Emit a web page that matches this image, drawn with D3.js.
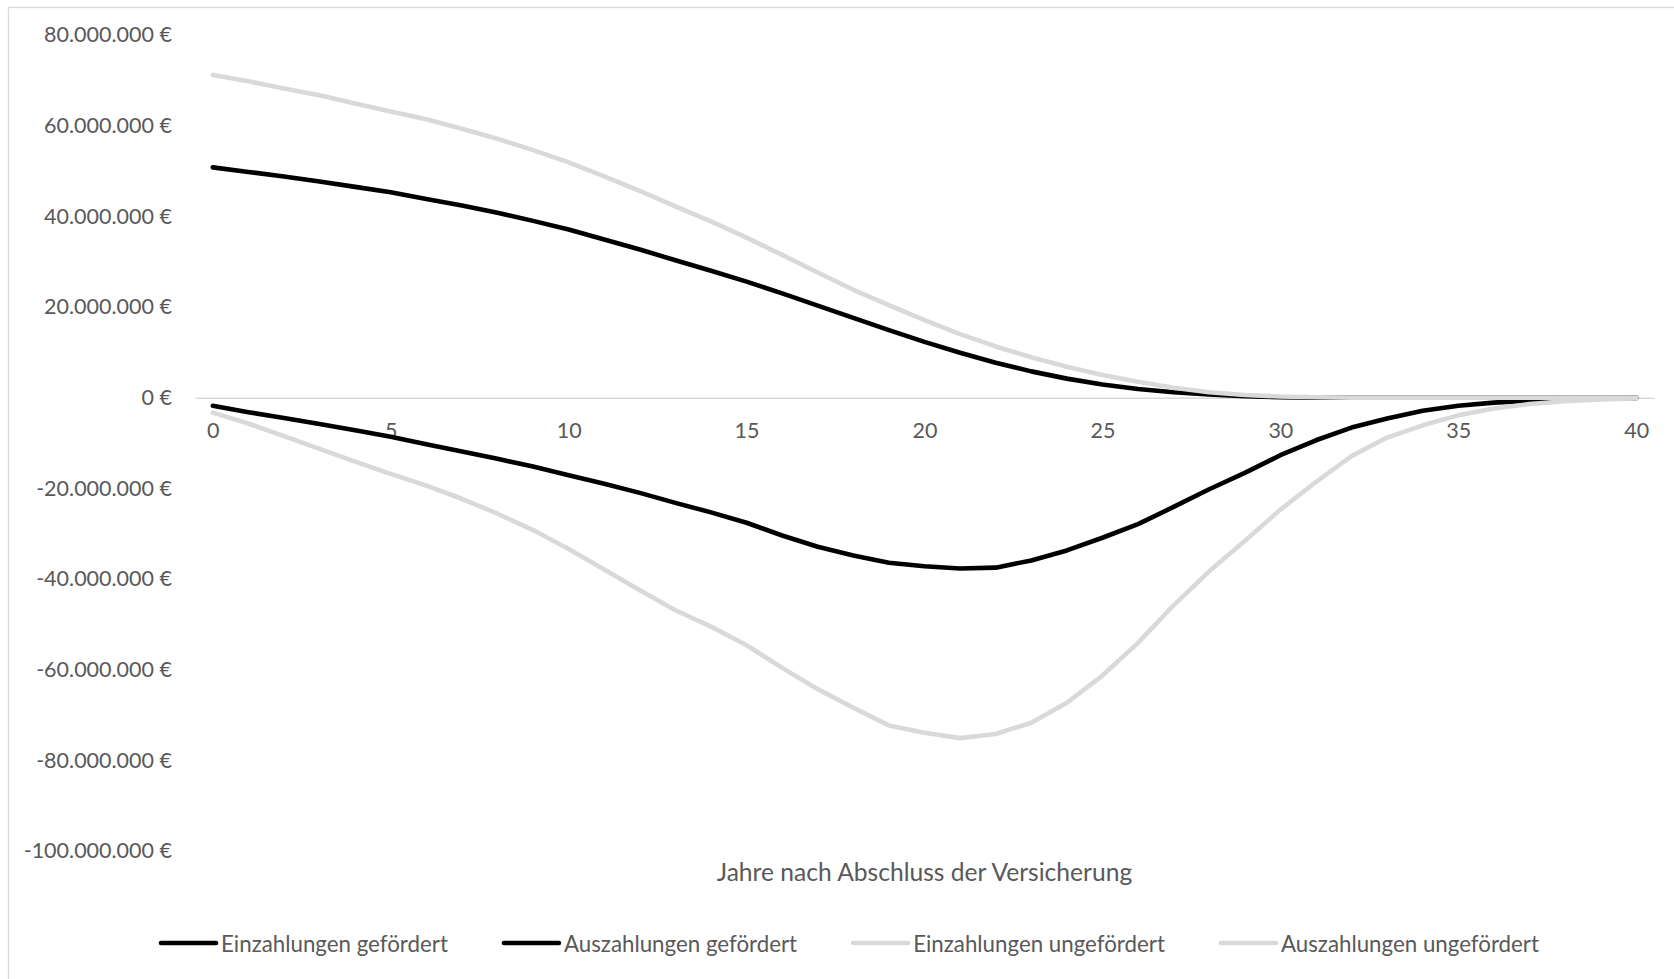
<!DOCTYPE html>
<html>
<head>
<meta charset="utf-8">
<script src="https://cdn.jsdelivr.net/npm/d3@7"></script>
<style>
  html, body { margin: 0; padding: 0; background: #ffffff; }
  svg { display: block; font-family: Lato, "Open Sans", sans-serif; }
</style>
</head>
<body>
<svg id="chart" width="1674" height="979"></svg>
<script>
// ---- Data (values in million €) ----
const years = [0,1,2,3,4,5,6,7,8,9,10,11,12,13,14,15,16,17,18,19,20,21,22,23,24,25,26,27,28,29,30,31,32,33,34,35,36,37,38,39,40];

const einzahlungenGefoerdert = [50.8,49.8,48.8,47.7,46.5,45.3,43.8,42.4,40.8,39.0,37.1,34.9,32.7,30.3,28.0,25.6,23.0,20.3,17.6,14.9,12.3,9.9,7.7,5.8,4.2,2.9,1.9,1.2,0.7,0.3,0.1,0,0,0,0,0,0,0,0,0,0];

const auszahlungenGefoerdert = [-1.8,-3.2,-4.5,-5.8,-7.2,-8.6,-10.3,-11.9,-13.5,-15.2,-17.1,-19.0,-21.0,-23.2,-25.3,-27.6,-30.4,-32.9,-34.8,-36.4,-37.2,-37.7,-37.5,-35.9,-33.7,-30.9,-27.9,-24.1,-20.2,-16.6,-12.7,-9.4,-6.6,-4.6,-2.9,-1.8,-1.1,-0.66,-0.37,-0.2,-0.1];

const einzahlungenUngefoerdert = [71.2,69.8,68.2,66.7,64.9,63.1,61.4,59.3,57.1,54.6,51.9,48.8,45.6,42.2,38.9,35.3,31.5,27.6,23.8,20.4,17.1,14.0,11.3,8.9,6.8,5.0,3.5,2.2,1.2,0.6,0.25,0.1,0,0,0,0,0,0,0,0,0];

const auszahlungenUngefoerdert = [-3.3,-5.7,-8.5,-11.3,-14.1,-16.8,-19.4,-22.3,-25.6,-29.2,-33.4,-37.9,-42.5,-46.9,-50.5,-54.6,-59.6,-64.3,-68.4,-72.3,-73.9,-75.1,-74.2,-71.7,-67.3,-61.3,-54.1,-45.8,-38.3,-31.6,-24.7,-18.6,-12.9,-8.8,-6.1,-3.9,-2.4,-1.4,-0.8,-0.4,-0.2];

const seriesNames = ["Einzahlungen gefördert","Auszahlungen gefördert","Einzahlungen ungefördert","Auszahlungen ungefördert"];
const seriesColors = ["#000000","#000000","#d9d9d9","#d9d9d9"];
const yTicks = [-100,-80,-60,-40,-20,0,20,40,60,80];
const xTicks = [0,5,10,15,20,25,30,35,40];
const xTitle = "Jahre nach Abschluss der Versicherung";

// ---- Layout ----
const svg = d3.select("#chart");
const W = 1674, H = 979;
const textColor = "#595959";
const gridColor = "#d9d9d9";

svg.append("rect").attr("x",0).attr("y",0).attr("width",W).attr("height",H).attr("fill","#fff");
// chart frame (extends past the right/bottom edge as in the reference)
svg.append("rect")
  .attr("x",8.5).attr("y",7.5).attr("width",W+20).attr("height",H+20)
  .attr("fill","none").attr("stroke",gridColor).attr("stroke-width",1.3);

const plotLeft = 195, plotRight = 1654, plotTop = 35, plotBottom = 851;

const x = d3.scaleLinear().domain([d3.min(years)-0.5, d3.max(years)+0.5]).range([plotLeft, plotRight]);
const y = d3.scaleLinear().domain([d3.min(yTicks), d3.max(yTicks)]).range([plotBottom, plotTop]);

const de = d3.formatLocale({decimal: ",", thousands: ".", grouping: [3], currency: ["", " €"], minus: "-"});
const fmt = de.format("$,.0f");

// Y axis labels
const yAxis = svg.append("g")
  .attr("transform", `translate(${plotLeft-15},0)`)
  .call(d3.axisLeft(y).tickValues(yTicks).tickSize(0).tickPadding(8).tickFormat(d => fmt(d*1e6)));
yAxis.select(".domain").remove();
yAxis.selectAll("text").attr("fill", textColor).style("font-size","21.5px").style("font-family","Lato, 'Open Sans', sans-serif");

// X axis at zero
const xAxis = svg.append("g")
  .attr("transform", `translate(0,${y(0)})`)
  .call(d3.axisBottom(x).tickValues(xTicks).tickSize(0).tickSizeOuter(0).tickPadding(25).tickFormat(d3.format("d")));
xAxis.select(".domain").attr("stroke", gridColor).attr("stroke-width",1.5);
xAxis.selectAll("text").attr("fill", textColor).style("font-size","21.5px").style("font-family","Lato, 'Open Sans', sans-serif");

// Lines
const seriesData = [einzahlungenGefoerdert, auszahlungenGefoerdert, einzahlungenUngefoerdert, auszahlungenUngefoerdert];
const line = d3.line().x((d,i) => x(years[i])).y(d => y(d)).curve(d3.curveLinear);
svg.append("g").selectAll("path")
  .data(seriesData)
  .join("path")
  .attr("d", line)
  .attr("fill","none")
  .attr("stroke", (d,i) => seriesColors[i])
  .attr("stroke-width", 4.6)
  .attr("stroke-linejoin","round")
  .attr("stroke-linecap","round");

// X title
svg.append("text")
  .attr("x", (plotLeft+plotRight)/2).attr("y", 871)
  .attr("text-anchor","middle").attr("dominant-baseline","central")
  .attr("fill", textColor).style("font-size","24.6px")
  .text(xTitle);

// Legend
const legend = svg.append("g").attr("transform","translate(0,943)");
const items = legend.selectAll("g").data(seriesNames).join("g");
items.append("line")
  .attr("x1",0).attr("x2",55).attr("y1",0).attr("y2",0)
  .attr("stroke",(d,i)=>seriesColors[i]).attr("stroke-width",4.6).attr("stroke-linecap","round");
items.append("text")
  .attr("x",60).attr("y",0).attr("dominant-baseline","central")
  .attr("fill",textColor).style("font-size","22.3px")
  .text(d=>d);
let widths = [];
items.each(function(){ widths.push(60 + d3.select(this).select("text").node().getComputedTextLength()); });
const gap = 56;
const total = d3.sum(widths) + gap*(widths.length-1);
let cx = 850 - total/2;
items.each(function(d,i){ d3.select(this).attr("transform",`translate(${cx},0)`); cx += widths[i] + gap; });
</script>
</body>
</html>
